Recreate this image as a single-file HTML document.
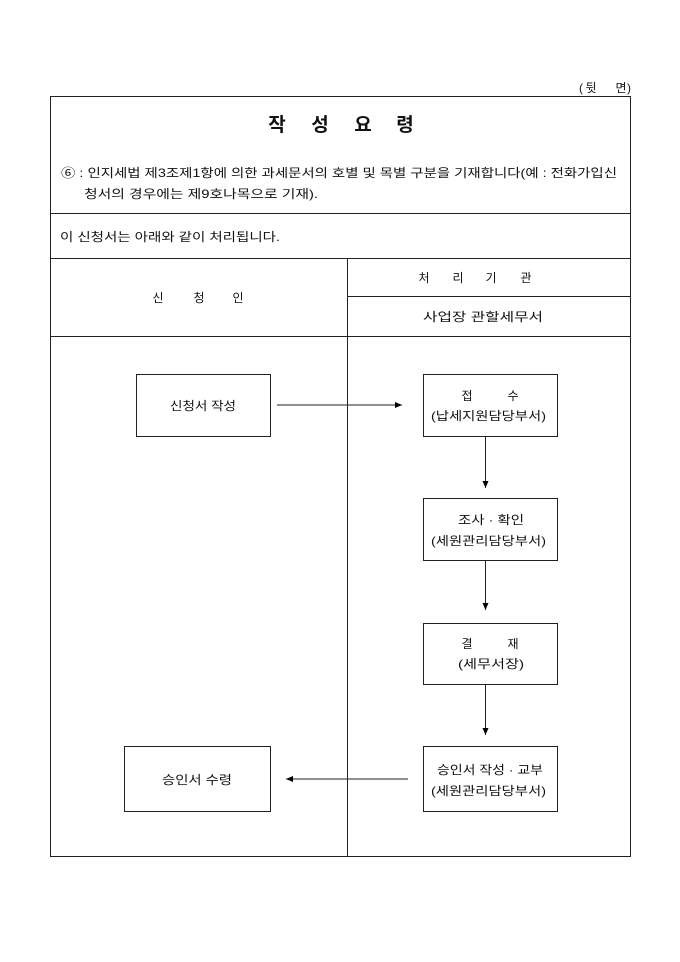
<!DOCTYPE html>
<html><head><meta charset="utf-8"><style>
html,body{margin:0;padding:0;background:#fff;width:680px;height:962px;overflow:hidden}
svg text{font-family:"Liberation Sans","Noto Sans CJK KR","NanumGothic",sans-serif;fill:#111}
</style></head><body>
<svg width="680" height="962" viewBox="0 0 680 962" xmlns="http://www.w3.org/2000/svg">
<defs><marker id="a" markerWidth="8" markerHeight="8" refX="7" refY="4" orient="auto" markerUnits="userSpaceOnUse"><path d="M0,1 L7,4 L0,7 Z" fill="#000"/></marker></defs>
<g stroke="#222" stroke-width="1" fill="none" shape-rendering="crispEdges">
<rect x="50.5" y="96.5" width="580" height="760"/>
<line x1="50" y1="213.5" x2="631" y2="213.5"/>
<line x1="50" y1="258.5" x2="631" y2="258.5"/>
<line x1="50" y1="336.5" x2="631" y2="336.5"/>
<line x1="347.5" y1="258" x2="347.5" y2="856"/>
<line x1="347" y1="296.5" x2="631" y2="296.5"/>
<rect x="136.5" y="374.5" width="134" height="62"/>
<rect x="423.5" y="374.5" width="134" height="62"/>
<rect x="423.5" y="498.5" width="134" height="62"/>
<rect x="423.5" y="623.5" width="134" height="61"/>
<rect x="423.5" y="746.5" width="134" height="65"/>
<rect x="124.5" y="746.5" width="146" height="65"/>
</g>
<g stroke="#222" stroke-width="1">
<line x1="277" y1="405" x2="402" y2="405" marker-end="url(#a)"/>
<line x1="485.5" y1="437" x2="485.5" y2="488" marker-end="url(#a)"/>
<line x1="485.5" y1="561" x2="485.5" y2="610" marker-end="url(#a)"/>
<line x1="485.5" y1="685" x2="485.5" y2="735" marker-end="url(#a)"/>
<line x1="408" y1="779" x2="286" y2="779" marker-end="url(#a)"/>
</g>
<g font-size="12" text-anchor="middle">
<text x="581" y="92">(</text><text x="591" y="92">뒷</text><text x="621" y="92">면</text><text x="629" y="92">)</text>
<text x="158" y="302">신</text><text x="199" y="302">청</text><text x="238" y="302">인</text>
<text x="424" y="282">처</text><text x="458" y="282">리</text><text x="491" y="282">기</text><text x="526" y="282">관</text>
<text x="467" y="400">접</text><text x="513" y="400">수</text>
<text x="467" y="648">결</text><text x="513" y="648">재</text>
</g>
<g font-size="19" font-weight="bold" text-anchor="middle">
<text x="277" y="131">작</text><text x="320" y="131">성</text><text x="363" y="131">요</text><text x="405" y="131">령</text>
</g>
<text x="61" y="177" font-size="12" textLength="556" lengthAdjust="spacingAndGlyphs">⑥ : 인지세법 제3조제1항에 의한 과세문서의 호별 및 목별 구분을 기재합니다(예 : 전화가입신</text>
<text x="84" y="198" font-size="12" textLength="234" lengthAdjust="spacingAndGlyphs">청서의 경우에는 제9호나목으로 기재).</text>
<text x="60" y="241" font-size="12" textLength="220" lengthAdjust="spacingAndGlyphs">이 신청서는 아래와 같이 처리됩니다.</text>
<text x="423" y="321" font-size="12" textLength="120" lengthAdjust="spacingAndGlyphs">사업장 관할세무서</text>
<text x="170" y="410" font-size="12" textLength="66" lengthAdjust="spacingAndGlyphs">신청서 작성</text>
<text x="431" y="420" font-size="12" textLength="115" lengthAdjust="spacingAndGlyphs">(납세지원담당부서)</text>
<text x="458" y="524" font-size="12" textLength="66" lengthAdjust="spacingAndGlyphs">조사 · 확인</text>
<text x="431" y="545" font-size="12" textLength="115" lengthAdjust="spacingAndGlyphs">(세원관리담당부서)</text>
<text x="458" y="668" font-size="12" textLength="66" lengthAdjust="spacingAndGlyphs">(세무서장)</text>
<text x="437" y="774" font-size="12" textLength="106" lengthAdjust="spacingAndGlyphs">승인서 작성 · 교부</text>
<text x="431" y="795" font-size="12" textLength="115" lengthAdjust="spacingAndGlyphs">(세원관리담당부서)</text>
<text x="162" y="784" font-size="12" textLength="70" lengthAdjust="spacingAndGlyphs">승인서 수령</text>
</svg>
</body></html>
